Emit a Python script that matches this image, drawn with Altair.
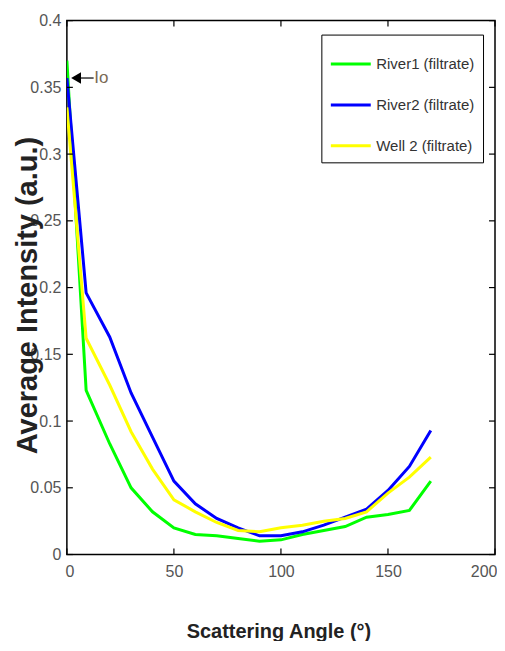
import altair as alt
import pandas as pd

# ---- data ----
angles = [0, 9, 20, 30, 40, 50, 60, 70, 80, 90, 100, 110, 120, 130, 140, 150, 160, 170]
river1 = [0.370, 0.123, 0.083, 0.050, 0.032, 0.020, 0.015, 0.014, 0.012, 0.010,
          0.011, 0.015, 0.018, 0.021, 0.028, 0.030, 0.033, 0.055]
river2 = [0.357, 0.196, 0.163, 0.121, 0.088, 0.055, 0.038, 0.027, 0.020, 0.014,
          0.014, 0.017, 0.022, 0.028, 0.034, 0.048, 0.066, 0.093]
well2 = [0.335, 0.162, 0.127, 0.092, 0.064, 0.041, 0.032, 0.024, 0.018, 0.017,
         0.020, 0.022, 0.025, 0.027, 0.032, 0.046, 0.058, 0.073]
series_names = ["River1 (filtrate)", "River2 (filtrate)", "Well 2 (filtrate)"]
series_colors = ["#00ff00", "#0000ff", "#ffff00"]
x_ticks = [0, 50, 100, 150, 200]
y_ticks = [0, 0.05, 0.1, 0.15, 0.2, 0.25, 0.3, 0.35, 0.4]
io_label = ["Io"]
io_arrow_x = [4.3, 12.5]
io_arrow_y = 0.357

W, H = 429, 535
FONT = "Liberation Sans, Arial, sans-serif"

rows = []
for name, vals in zip(series_names, [river1, river2, well2]):
    for a, v in zip(angles, vals):
        rows.append({"series": name, "angle": a, "value": v})
df = pd.DataFrame(rows)

xscale = alt.Scale(domain=[0, 200], nice=False)
yscale = alt.Scale(domain=[0, 0.4], nice=False)

lines = alt.Chart(df).mark_line(strokeWidth=3, clip=True).encode(
    x=alt.X("angle:Q", scale=xscale,
            axis=alt.Axis(values=x_ticks, title="Scattering Angle (°)",
                          titleX=212, titleY=83, titleBaseline="alphabetic",
                          titleAlign="center", titleFontSize=20,
                          labelPadding=9, labelFlush=True, labelFlushOffset=2)),
    y=alt.Y("value:Q", scale=yscale,
            axis=alt.Axis(values=y_ticks, format="~g", title="Average Intensity (a.u.)",
                          titleX=-30, titleY=275, titleAngle=270,
                          titleBaseline="alphabetic", titleAlign="center",
                          titleFontSize=29, labelPadding=6, labelFlush=False)),
    color=alt.Color("series:N",
                    scale=alt.Scale(domain=series_names, range=series_colors),
                    legend=alt.Legend(title=None, orient="none", legendX=255, legendY=14,
                                      symbolType="stroke", symbolSize=1600,
                                      symbolStrokeWidth=3, labelFont=FONT,
                                      labelFontSize=15, labelColor="#333",
                                      labelOffset=4, rowPadding=11, padding=8,
                                      strokeColor="black", fillColor="white",
                                      labelLimit=200)),
)

yt = pd.DataFrame({"value": y_ticks})
xt = pd.DataFrame({"angle": x_ticks})
left_ticks = alt.Chart(yt).mark_rule(color="black", strokeWidth=1.2).encode(
    y=alt.Y("value:Q", scale=yscale), x=alt.value(0), x2=alt.value(6))
right_ticks = alt.Chart(yt).mark_rule(color="black", strokeWidth=1.2).encode(
    y=alt.Y("value:Q", scale=yscale), x=alt.value(W - 6), x2=alt.value(W))
bottom_ticks = alt.Chart(xt).mark_rule(color="black", strokeWidth=1.2).encode(
    x=alt.X("angle:Q", scale=xscale), y=alt.value(H - 6), y2=alt.value(H))
top_ticks = alt.Chart(xt).mark_rule(color="black", strokeWidth=1.2).encode(
    x=alt.X("angle:Q", scale=xscale), y=alt.value(0), y2=alt.value(6))

arrow_df = pd.DataFrame({"angle": io_arrow_x, "value": [io_arrow_y, io_arrow_y]})
arrow_line = alt.Chart(arrow_df).mark_line(color="black", strokeWidth=1.2).encode(
    x=alt.X("angle:Q", scale=xscale), y=alt.Y("value:Q", scale=yscale))
arrow_head = alt.Chart(arrow_df.iloc[[0]]).mark_point(
    shape="triangle-left", filled=True, color="black", size=130, opacity=1).encode(
    x=alt.X("angle:Q", scale=xscale), y=alt.Y("value:Q", scale=yscale))
io_text = alt.Chart(pd.DataFrame({"angle": [io_arrow_x[1] + 0.3], "value": [io_arrow_y],
                                  "t": io_label})).mark_text(
    align="left", baseline="middle", font=FONT, fontSize=17, color="#7a6a55").encode(
    x=alt.X("angle:Q", scale=xscale), y=alt.Y("value:Q", scale=yscale), text="t:N")

chart = alt.layer(
    lines, left_ticks, right_ticks, bottom_ticks, top_ticks, arrow_line, arrow_head, io_text
).properties(
    width=W, height=H,
    autosize=alt.AutoSizeParams(type="none"),
    padding={"left": 59, "top": 12, "right": 2, "bottom": 86},
).configure_view(
    stroke="black", strokeWidth=1.5
).configure_axis(
    domain=False, ticks=False, grid=False,
    labelFont=FONT, labelFontSize=16, labelColor="#555",
    titleFont=FONT, titleFontWeight="bold", titleColor="#222",
)

chart.save("out.html", embed_options={"renderer": "svg", "actions": False})
